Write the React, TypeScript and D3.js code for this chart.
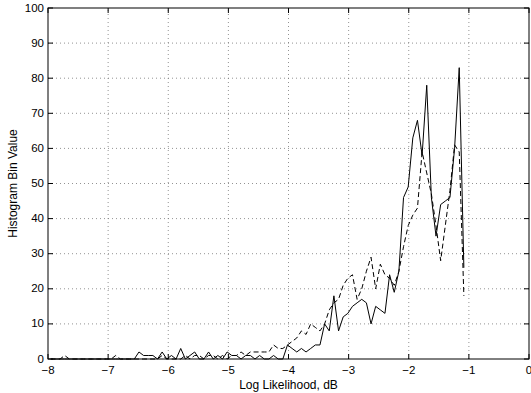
import React, { useEffect, useRef } from 'react';
import * as d3 from 'd3';

// histogram bins (log likelihood, dB)
const binStart = -7.954;
const binWidth = 0.0772;

const solidCounts = [
  0, 0, 0, 0, 0, 0, 0, 0, 0, 0,
  0, 0, 0, 0, 0, 0, 0, 0, 0, 2,
  1, 1, 1, 0, 2, 0, 1, 0, 3, 0,
  1, 2, 0, 0, 2, 0, 1, 0, 2, 1,
  1, 0, 1, 1, 0, 1, 0, 0, 1, 0,
  0, 4, 3, 2, 3, 2, 3, 4, 4, 10,
  8, 18, 8, 12, 13, 15, 16, 17, 16, 10,
  15, 14, 13, 24, 19, 25, 46, 49, 63, 68,
  58, 78, 46, 35, 44, 45, 46, 60, 83, 26,
];

const dashedCounts = [
  0, 0, 0, 1, 0, 0, 0, 0, 0, 0,
  0, 0, 0, 0, 1, 0, 0, 0, 0, 0,
  0, 0, 0, 0, 1, 0, 0, 0, 0, 1,
  0, 1, 1, 0, 1, 1, 0, 1, 0, 1,
  1, 2, 1, 2, 2, 2, 2, 2, 4, 3,
  3, 4, 5, 6, 8, 7, 10, 9, 8, 10,
  14, 16, 17, 21, 23, 24, 17, 20, 25, 29,
  20, 27, 24, 23, 21, 25, 32, 38, 41, 43,
  59, 53, 47, 38, 28, 38, 48, 61, 59, 18,
];

const xTicks = [-8, -7, -6, -5, -4, -3, -2, -1, 0];
const yTicks = [0, 10, 20, 30, 40, 50, 60, 70, 80, 90, 100];

const App = () => {
  const svgRef = useRef<SVGSVGElement>(null);

  useEffect(() => {
    const width = 531;
    const height = 393;
    const margin = { top: 8, right: 2, bottom: 34, left: 48 };

    const svg = d3.select(svgRef.current);
    svg.selectAll('*').remove();
    svg.attr('width', width).attr('height', height);

    const x = d3.scaleLinear()
      .domain([-8, 0])
      .range([margin.left, width - margin.right]);
    const y = d3.scaleLinear()
      .domain([0, 100])
      .range([height - margin.bottom, margin.top]);

    const g = svg.append('g');
    const font = 'Liberation Sans, Arial, sans-serif';

    // dotted grid
    g.selectAll('.vgrid')
      .data(xTicks.slice(1, -1))
      .enter()
      .append('line')
      .attr('x1', d => x(d)).attr('x2', d => x(d))
      .attr('y1', y(0)).attr('y2', y(100))
      .attr('stroke', '#777')
      .attr('stroke-width', 0.8)
      .attr('stroke-dasharray', '1,3');
    g.selectAll('.hgrid')
      .data(yTicks.slice(1, -1))
      .enter()
      .append('line')
      .attr('x1', x(-8)).attr('x2', x(0))
      .attr('y1', d => y(d)).attr('y2', d => y(d))
      .attr('stroke', '#777')
      .attr('stroke-width', 0.8)
      .attr('stroke-dasharray', '1,3');

    const bins = solidCounts.map((_, i) => binStart + i * binWidth);
    const line = d3.line<number>()
      .x((_, i) => x(bins[i]))
      .y(d => y(d));

    g.append('path')
      .datum(dashedCounts)
      .attr('fill', 'none')
      .attr('stroke', '#000')
      .attr('stroke-width', 1)
      .attr('stroke-dasharray', '5,3')
      .attr('d', line);

    g.append('path')
      .datum(solidCounts)
      .attr('fill', 'none')
      .attr('stroke', '#000')
      .attr('stroke-width', 1)
      .attr('d', line);

    // axes box with inward ticks
    const tick = 5;
    g.append('rect')
      .attr('x', x(-8)).attr('y', y(100))
      .attr('width', x(0) - x(-8)).attr('height', y(0) - y(100))
      .attr('fill', 'none')
      .attr('stroke', '#000')
      .attr('stroke-width', 1);

    xTicks.forEach(t => {
      g.append('line')
        .attr('x1', x(t)).attr('x2', x(t))
        .attr('y1', y(0)).attr('y2', y(0) - tick)
        .attr('stroke', '#000');
      g.append('line')
        .attr('x1', x(t)).attr('x2', x(t))
        .attr('y1', y(100)).attr('y2', y(100) + tick)
        .attr('stroke', '#000');
      g.append('text')
        .attr('x', x(t))
        .attr('y', y(0) + 15)
        .attr('text-anchor', 'middle')
        .attr('font-family', font)
        .attr('font-size', 11.5)
        .text(t < 0 ? `\u2212${-t}` : `${t}`);
    });

    yTicks.forEach(t => {
      g.append('line')
        .attr('x1', x(-8)).attr('x2', x(-8) + tick)
        .attr('y1', y(t)).attr('y2', y(t))
        .attr('stroke', '#000');
      g.append('line')
        .attr('x1', x(0)).attr('x2', x(0) - tick)
        .attr('y1', y(t)).attr('y2', y(t))
        .attr('stroke', '#000');
      g.append('text')
        .attr('x', x(-8) - 4)
        .attr('y', y(t) + 3.5)
        .attr('text-anchor', 'end')
        .attr('font-family', font)
        .attr('font-size', 11.5)
        .text(`${t}`);
    });

    g.append('text')
      .attr('x', (x(-8) + x(0)) / 2)
      .attr('y', height - 4)
      .attr('text-anchor', 'middle')
      .attr('font-family', font)
      .attr('font-size', 12)
      .text('Log Likelihood, dB');

    g.append('text')
      .attr('transform', `translate(17,${(y(0) + y(100)) / 2}) rotate(-90)`)
      .attr('text-anchor', 'middle')
      .attr('font-family', font)
      .attr('font-size', 12)
      .text('Histogram Bin Value');
  }, []);

  return <svg ref={svgRef} style={{ position: 'absolute', left: 0, top: 0, background: '#fff' }} />;
};

export default App;
